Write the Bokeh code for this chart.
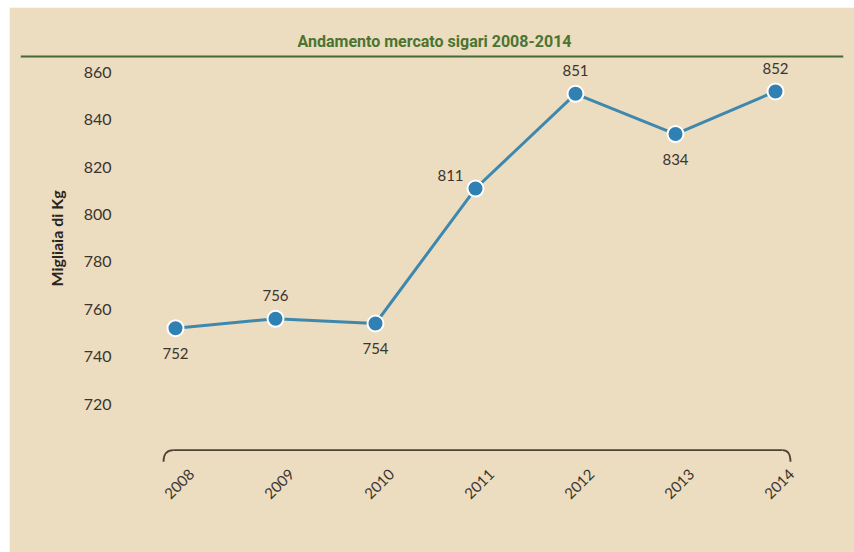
import math
from bokeh.plotting import figure
from bokeh.models import Range1d, FixedTicker, LinearAxis, ColumnDataSource
from bokeh.layouts import column
from bokeh.core.properties import value
from bokeh.embed import file_html
from bokeh.resources import INLINE

# ---- data ----
years = [2008, 2009, 2010, 2011, 2012, 2013, 2014]
values = [752, 756, 754, 811, 851, 834, 852]
y_ticks = [720, 740, 760, 780, 800, 820, 840, 860]
title_text = "Andamento mercato sigari 2008-2014"
y_label = "Migliaia di Kg"

# label placement relative to each point
label_side = ["below", "above", "below", "left", "above", "below", "above"]
side_offsets = {"below": (0, 25), "above": (0, -23), "left": (-25, -13)}

# ---- style ----
BG = "#ecdcc0"
TXT = "#3a342e"
FONT = "Lato"
TITLE_FONT = "Roboto"
LINE = "#3f88ad"
MARK = "#2f80b3"
GREEN = "#476833"
W, H = 845, 545

X0, X1 = 2006.45, 2014.68
Y0, Y1 = 694.03, 868.45

p = figure(width=W, height=H, output_backend="svg", toolbar_location=None,
           x_range=Range1d(X0, X1), y_range=Range1d(Y0, Y1),
           x_axis_type=None,
           min_border_top=45, min_border_bottom=87,
           min_border_left=11, min_border_right=11)
p.background_fill_color = BG
p.border_fill_color = BG
p.outline_line_color = BG
p.outline_line_width = 3
p.grid.visible = False

p.title.text = title_text
p.title.align = "left"
p.title.offset = 277
p.title.standoff = 4
p.title.text_font = TITLE_FONT
p.title.text_font_style = "bold"
p.title.text_font_size = "16px"
p.title.text_color = "#4b7430"

# green rule under the title, across the whole frame
rule_y = 866.76
p.segment(x0=[X0], y0=[rule_y], x1=[X1], y1=[rule_y], line_color=GREEN, line_width=2)

# y axis pinned inside the frame, left of the first year
ya = p.yaxis[0]
ya.fixed_location = 2007.5
ya.bounds = (y_ticks[0], y_ticks[-1])
ya.ticker = FixedTicker(ticks=y_ticks)
ya.axis_line_color = None
ya.major_tick_line_color = None
ya.minor_tick_line_color = None
ya.major_label_standoff = 8
ya.major_label_text_font = FONT
ya.major_label_text_font_size = "16px"
ya.major_label_text_color = TXT
ya.axis_label = y_label
ya.axis_label_standoff = 15
ya.axis_label_text_font = FONT
ya.axis_label_text_font_size = "16px"
ya.axis_label_text_font_style = "bold"
ya.axis_label_text_color = "#2a2520"

p.extra_x_ranges = {"lab": Range1d(X0 - 0.16, X1 - 0.16)}
xa = LinearAxis(x_range_name="lab", ticker=FixedTicker(ticks=years),
                major_label_orientation=math.pi / 4,
                axis_line_color=None, major_tick_line_color=None,
                minor_tick_line_color=None, major_label_standoff=0,
                major_label_text_font=FONT, major_label_text_font_size="15px",
                major_label_text_color=TXT)
p.add_layout(xa, "below")

# bracket under the plot
yb = 700.5
yb_end = 695.6
x_first, x_last = years[0], years[-1]
p.segment(x0=[x_first - 0.02], y0=[yb], x1=[x_last + 0.07], y1=[yb],
          line_color="#4a4336", line_width=1.8)
p.quadratic(x0=[x_first - 0.02, x_last + 0.07], y0=[yb, yb],
            x1=[x_first - 0.12, x_last + 0.15], y1=[yb_end, yb_end],
            cx=[x_first - 0.12, x_last + 0.15], cy=[yb, yb],
            line_color="#4a4336", line_width=1.8)

src = ColumnDataSource(dict(
    x=years, y=values, txt=[str(v) for v in values],
    xo=[side_offsets[s][0] for s in label_side],
    yo=[side_offsets[s][1] for s in label_side],
))
p.line("x", "y", source=src, line_color=LINE, line_width=3)
p.scatter("x", "y", source=src, size=16, fill_color=MARK, line_color="white", line_width=2)
p.text("x", "y", text="txt", source=src, x_offset="xo", y_offset="yo",
       text_align="center", text_baseline="middle",
       text_font=value(FONT), text_font_size="15px", text_color=TXT)

layout = column(p, margin=(7, 0, 0, 9))

open("out.html", "w").write(file_html(layout, INLINE))
